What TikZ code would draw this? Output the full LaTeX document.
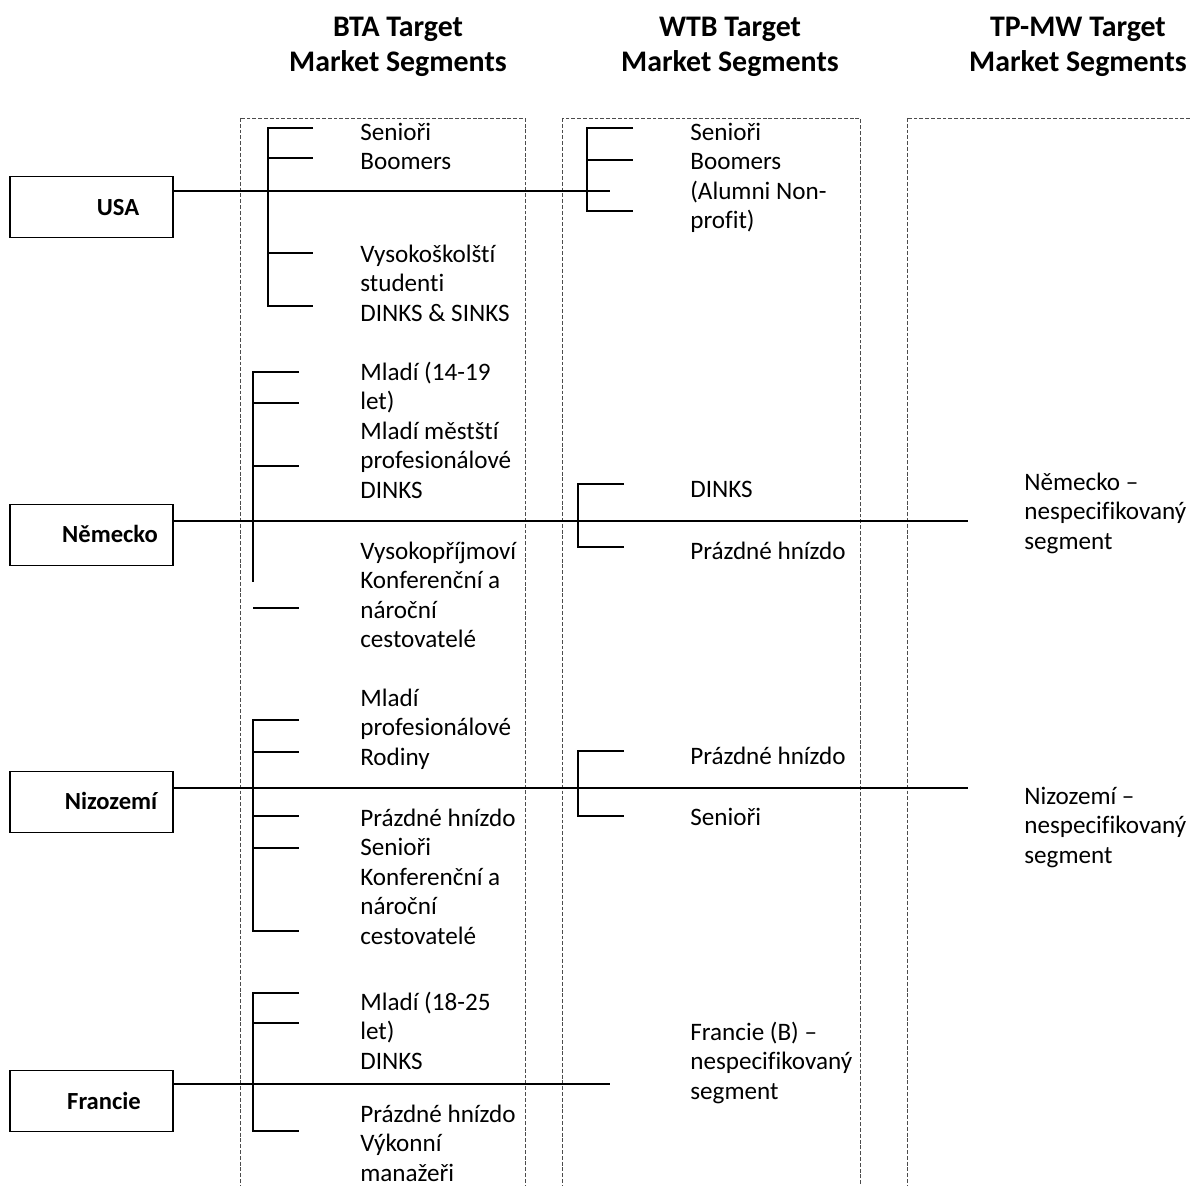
\documentclass[tikz,border=0pt]{standalone}
\usepackage{fontspec}
\setmainfont{Carlito}[Ligatures=NoCommon]
\usetikzlibrary{positioning}

\begin{document}
\begin{tikzpicture}[x=0.02cm,y=-0.02cm,
  seg/.style={anchor=west,inner sep=0pt,text height=9.2pt,text depth=0pt,font=\fontsize{14.3}{16.7}\selectfont},
  hdr/.style={inner sep=0pt,text height=11pt,text depth=0pt,font=\fontsize{17}{20}\selectfont\bfseries},
  ctry/.style={draw,line width=1.1pt,minimum width=3.26cm,minimum height=1.22cm,inner sep=0pt},
  ctrytxt/.style={inner sep=0pt,text height=8.8pt,text depth=0pt,font=\fontsize{14}{16}\selectfont\bfseries},
  brk/.style={line width=1.1pt},
  col/.style={draw=black!70,line width=0.5pt,dash pattern=on 2.2pt off 1.1pt}]

\clip (0,0) rectangle (1190,1186);

% column headers
\node[hdr] (bta1) at (398,27) {BTA Target};
\node[hdr] (bta2) at (398,62) {Market Segments};
\node[hdr] (wtb1) at (730,27) {WTB Target};
\node[hdr] (wtb2) at (730,62) {Market Segments};
\node[hdr] (tpmw1) at (1078,27) {TP-MW Target};
\node[hdr] (tpmw2) at (1078,62) {Market Segments};

% dashed columns
\draw[col] (240,118) rectangle (525,1250);
\draw[col] (562,118) rectangle (860,1250);
\draw[col] (907,118) rectangle (1250,1250);

% country boxes
\node[ctry] (usa) at (91.5,207) {};
\node[ctrytxt] (usa-t) at (118,208) {USA};
\node[ctry] (nem) at (91.5,535) {};
\node[ctrytxt] (nem-t) at (110,535) {Německo};
\node[ctry] (niz) at (91.5,802) {};
\node[ctrytxt] (niz-t) at (111,802) {Nizozemí};
\node[ctry] (fra) at (91.5,1101) {};
\node[ctrytxt] (fra-t) at (104,1102) {Francie};

\coordinate (usa-e) at (610,191);
\coordinate (nem-e) at (968,521);
\coordinate (niz-e) at (968,788);
\coordinate (fra-e) at (610,1084);
\draw[brk] (usa.east |- usa-e) -- (usa-e);
\draw[brk] (nem.east |- nem-e) -- (nem-e);
\draw[brk] (niz.east |- niz-e) -- (niz-e);
\draw[brk] (fra.east |- fra-e) -- (fra-e);

% USA
\draw[brk] (313,128) -| (268,306) -- (313,306);
\foreach \y in {158,253} \draw[brk] (268,\y) -- (313,\y);
\draw[line width=1.6pt] (331,191) -- (377,191);
\draw[brk] (633,128) -| (587,211) -- (633,211);
\draw[brk] (587,160) -- (633,160);
\foreach \t [count=\i] in {Senioři,Boomers}
  \node[seg] (usa-a\i) at (360,{132+29.5*(\i-1)}) {\t};
\foreach \t [count=\i] in {Vysokoškolští,studenti,DINKS \& SINKS}
  \node[seg] (usa-b\i) at (360,{254+29.5*(\i-1)}) {\t};
\foreach \t [count=\i] in {Senioři,Boomers,{(Alumni Non-},profit)}
  \node[seg] (usa-w\i) at (690,{132+29.5*(\i-1)}) {\t};

% Nemecko
\draw[brk] (299,372) -| (253,582);
\foreach \y in {403,466,521} \draw[brk] (253,\y) -- (299,\y);
\draw[brk] (253,608) -- (299,608);
\draw[brk] (624,484) -| (578,547) -- (624,547);
\foreach \t [count=\i] in {Mladí (14-19,let),Mladí městští,profesionálové,DINKS}
  \node[seg] (nem-a\i) at (360,{372+29.5*(\i-1)}) {\t};
\foreach \t [count=\i] in {Vysokopříjmoví,Konferenční a,nároční,cestovatelé}
  \node[seg] (nem-b\i) at (360,{551+29.5*(\i-1)}) {\t};
\node[seg] (nem-w1) at (690,489) {DINKS};
\node[seg] (nem-w2) at (690,551) {Prázdné hnízdo};
\foreach \t [count=\i] in {Německo –,nespecifikovaný,segment}
  \node[seg] (nem-t\i) at (1024,{482+29.5*(\i-1)}) {\t};

% Nizozemi
\draw[brk] (299,720) -| (253,931) -- (299,931);
\foreach \y in {752,816,848} \draw[brk] (253,\y) -- (299,\y);
\draw[brk] (624,751) -| (578,816) -- (624,816);
\foreach \t [count=\i] in {Mladí,profesionálové,Rodiny}
  \node[seg] (niz-a\i) at (360,{698+29.5*(\i-1)}) {\t};
\foreach \t [count=\i] in {Prázdné hnízdo,Senioři,Konferenční a,nároční,cestovatelé}
  \node[seg] (niz-b\i) at (360,{818+29.5*(\i-1)}) {\t};
\node[seg] (niz-w1) at (690,756) {Prázdné hnízdo};
\node[seg] (niz-w2) at (690,817) {Senioři};
\foreach \t [count=\i] in {Nizozemí –,nespecifikovaný,segment}
  \node[seg] (niz-t\i) at (1024,{796+29.5*(\i-1)}) {\t};

% Francie
\draw[brk] (299,993) -| (253,1131) -- (299,1131);
\foreach \y in {1023,1084} \draw[brk] (253,\y) -- (299,\y);
\foreach \t [count=\i] in {Mladí (18-25,let),DINKS}
  \node[seg] (fra-a\i) at (360,{1002+29.5*(\i-1)}) {\t};
\foreach \t [count=\i] in {Prázdné hnízdo,Výkonní,manažeři}
  \node[seg] (fra-b\i) at (360,{1114+29.5*(\i-1)}) {\t};
\foreach \t [count=\i] in {Francie (B) –,nespecifikovaný,segment}
  \node[seg] (fra-w\i) at (690,{1032+29.5*(\i-1)}) {\t};
\end{tikzpicture}
\end{document}
